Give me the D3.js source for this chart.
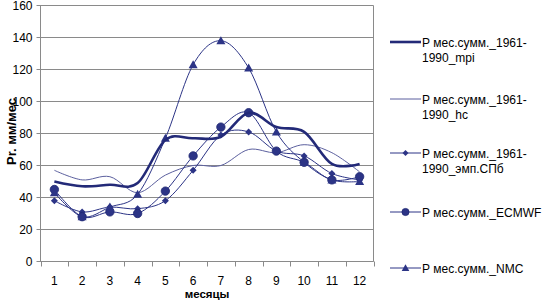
<!DOCTYPE html>
<html><head><meta charset="utf-8">
<script src="https://cdn.jsdelivr.net/npm/d3@7"></script>
<style>body{margin:0;background:#fff}svg{display:block}text{font-family:"Liberation Sans",Arial,sans-serif}</style>
</head><body><svg id="c" width="558" height="300"></svg>
<script>
const months = ["1","2","3","4","5","6","7","8","9","10","11","12"];
const yTicks = [0,20,40,60,80,100,120,140,160];
const mpi  = [50,47,48,49,76,77,78,93,84,81,61,61];
const hc   = [57,51,53,43,54,60,60,70,68,73,68,56];
const emp  = [38,31,34,33,38,57,79,81,69,66,55,51];
const ecmwf= [45,28,31,30,44,66,84,93,69,62,51,53];
const nmc  = [43,28,34,42,77,123,138,121,81,62,51,50];
const seriesNames = [["Р мес.сумм._1961-","1990_mpi"],["Р мес.сумм._1961-","1990_hc"],["Р мес.сумм._1961-","1990_эмп.СПб"],["Р мес.сумм._ECMWF"],["Р мес.сумм._NMC"]];

const series = [
  {name:seriesNames[0], values:mpi, color:"#232a78", width:2.6, marker:null},
  {name:seriesNames[1], values:hc, color:"#5b5f9e", width:1, marker:null},
  {name:seriesNames[2], values:emp, color:"#2c3486", width:1, marker:"diamond"},
  {name:seriesNames[3], values:ecmwf, color:"#2c3486", width:1, marker:"circle"},
  {name:seriesNames[4], values:nmc, color:"#2c3486", width:1, marker:"triangle"}
];
const legendY = [[42,57],[99,114],[153,168],[212],[268]];

const svg = d3.select("#c");
const L=40.5, R=373.5, T=5.5, B=261.5;
const x = d3.scaleBand().domain(months).range([L,R]);
const y = d3.scaleLinear().domain([0,160]).range([B,T]);

svg.append("g").selectAll("line").data(yTicks).join("line")
  .attr("x1",L-4).attr("x2",R).attr("y1",d=>y(d)).attr("y2",d=>y(d))
  .attr("stroke","#8a8a8a").attr("stroke-width",1);
svg.append("line").attr("x1",R).attr("x2",R).attr("y1",T).attr("y2",B).attr("stroke","#8a8a8a");
svg.append("line").attr("x1",L).attr("x2",L).attr("y1",T).attr("y2",B+0.5).attr("stroke","#8a8a8a");
svg.append("g").selectAll("text").data(yTicks).join("text")
  .attr("x",L-8).attr("y",d=>y(d)+4).attr("text-anchor","end").attr("font-size",12).attr("fill","#000").text(d=>d);
svg.append("line").attr("x1",L).attr("x2",R).attr("y1",B).attr("y2",B).attr("stroke","#8a8a8a");
const bounds = d3.range(13).map(i=>L+i*x.step());
svg.append("g").selectAll("line").data(bounds).join("line")
  .attr("x1",d=>Math.round(d)+0.5).attr("x2",d=>Math.round(d)+0.5).attr("y1",B).attr("y2",B+5).attr("stroke","#8a8a8a");
svg.append("g").selectAll("text").data(months).join("text")
  .attr("x",d=>x(d)+x.bandwidth()/2).attr("y",285).attr("text-anchor","middle").attr("font-size",12).text(d=>d);
svg.append("text").attr("x",(L+R)/2).attr("y",298).attr("text-anchor","middle")
  .attr("font-size",11.5).attr("font-weight","bold").text("месяцы");
svg.append("text").attr("transform",`translate(16,${(T+B)/2-2}) rotate(-90)`).attr("text-anchor","middle")
  .attr("font-size",13).attr("font-weight","bold").text("Pr. мм/мес");

const cx = (d,i)=>x(months[i])+x.bandwidth()/2;
const line = d3.line().x(cx).y(d=>y(d)).curve(d3.curveCardinal.tension(0));

function marker(g, type, px, py, color, s=1){
  if(type==="diamond"){
    g.append("path").attr("d",`M${px},${py-3.5*s}L${px+3.5*s},${py}L${px},${py+3.5*s}L${px-3.5*s},${py}Z`).attr("fill",color);
  } else if(type==="circle"){
    g.append("circle").attr("cx",px).attr("cy",py).attr("r",4.2*s).attr("fill",color).attr("stroke","#1c2470").attr("stroke-width",0.8);
  } else if(type==="triangle"){
    g.append("path").attr("d",`M${px},${py-4.5*s}L${px+4.5*s},${py+3.5*s}L${px-4.5*s},${py+3.5*s}Z`).attr("fill",color);
  }
}

const order=[1,2,3,4,0];
order.forEach(k=>{
  const s=series[k];
  const g=svg.append("g");
  g.append("path").attr("d",line(s.values)).attr("fill","none").attr("stroke",s.color).attr("stroke-width",s.width);
  if(s.marker) s.values.forEach((v,i)=>marker(g,s.marker,cx(v,i),y(v),s.color));
});

series.forEach((s,k)=>{
  const g=svg.append("g");
  const ly=legendY[k][0];
  g.append("line").attr("x1",390).attr("x2",421).attr("y1",ly).attr("y2",ly).attr("stroke",s.color).attr("stroke-width",s.width);
  if(s.marker) marker(g,s.marker,405.5,ly,s.color,0.85);
  s.name.forEach((t,j)=>{
    g.append("text").attr("x",422).attr("y",legendY[k][j]+4.5).attr("font-size",12).text(t);
  });
});
</script></body></html>
